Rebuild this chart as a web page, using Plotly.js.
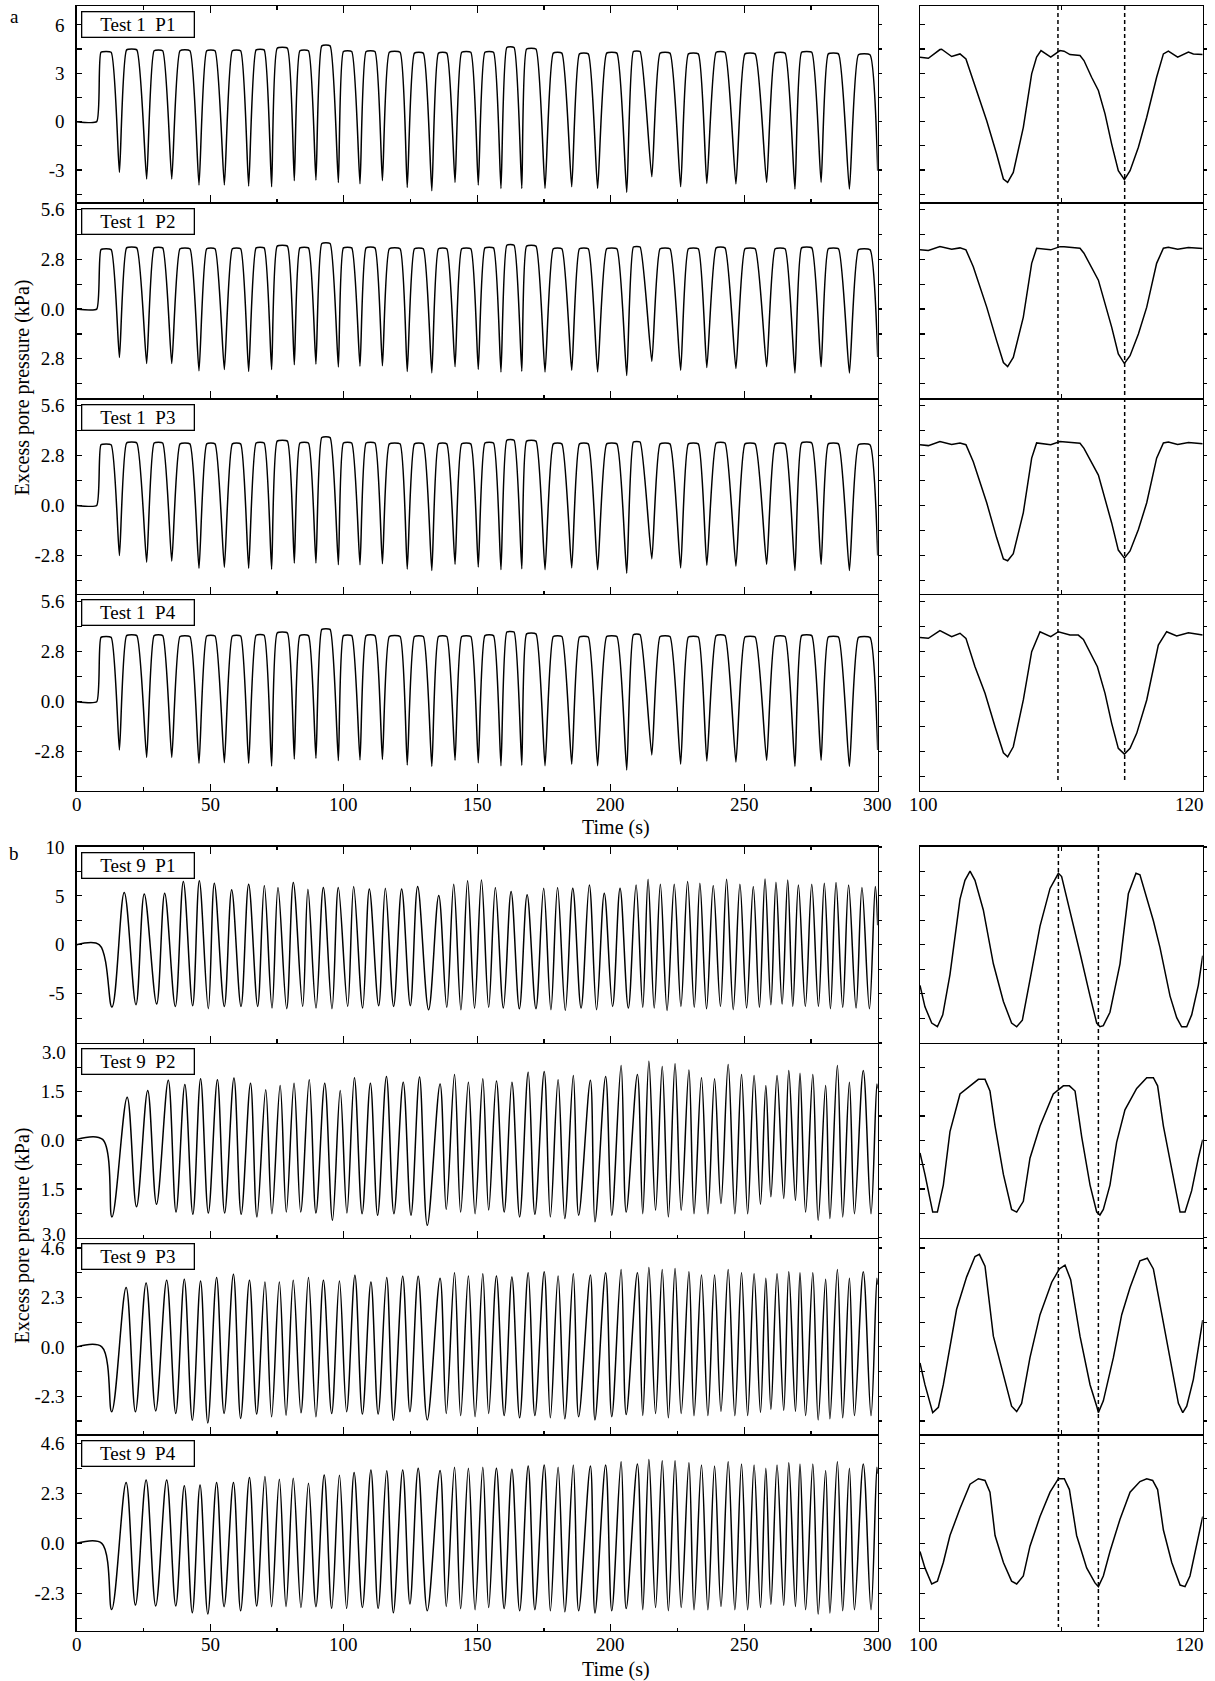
<!DOCTYPE html>
<html><head><meta charset="utf-8">
<script src="https://cdn.plot.ly/plotly-3.0.1.min.js"></script>
<style>html,body{margin:0;padding:0;background:#fff}#chart{width:1215px;height:1681px}</style>
</head><body><div id="chart"></div>
<script>
// ---------------- DATA ----------------
// Test 1 : shared timing of each cycle (s)
const T1_START = 7.5;
const T1_rise  = [9.1,18.7,29.0,38.7,48.7,58.3,67.2,75.1,83.6,91.8,99.9,108.4,117.1,126.5,135.5,144.2,152.9,161.1,168.5,178.5,188.3,198.5,208.5,218.5,229.1,239.5,250.3,261.6,271.5,281.5,292.8];
const T1_fall  = [12.9,22.5,32.2,42.4,51.8,61.4,70.2,78.9,86.8,94.9,103.0,111.7,121.1,129.8,138.6,147.6,156.1,163.8,172.0,181.7,191.6,202.3,211.0,222.2,232.8,242.8,254.1,265.3,275.3,285.3,297.1];
const T1_trough= [16.0,26.2,35.6,45.8,55.3,64.4,73.0,81.5,89.6,98.0,106.1,114.5,123.8,133.0,141.7,150.4,158.9,166.7,175.4,185.4,195.1,206.0,215.4,226.2,236.0,246.9,258.4,269.0,278.8,289.4];
// Test 1 plateau levels / trough levels (kPa)
const T1P1_plateau=[4.3,4.45,4.4,4.4,4.4,4.4,4.45,4.55,4.4,4.7,4.35,4.35,4.3,4.25,4.25,4.3,4.3,4.6,4.5,4.25,4.2,4.25,4.35,4.25,4.2,4.3,4.2,4.25,4.3,4.2,4.15];
const T1P1_trough=[-3.15,-3.56,-3.56,-3.93,-3.93,-3.99,-4.04,-3.66,-3.62,-3.77,-3.85,-3.66,-4.08,-4.29,-3.77,-3.93,-4.14,-4.14,-4.14,-4.04,-4.14,-4.39,-3.42,-4.04,-3.83,-3.87,-3.77,-4.18,-3.77,-4.18];
const T1P1_end=-3.04;
const T1P2_plateau=[3.35,3.45,3.45,3.4,3.4,3.4,3.45,3.55,3.45,3.7,3.45,3.45,3.4,3.4,3.4,3.4,3.45,3.6,3.55,3.4,3.4,3.4,3.5,3.4,3.4,3.45,3.4,3.4,3.45,3.4,3.35];
const T1P2_trough=[-2.73,-3.07,-3.07,-3.48,-3.41,-3.52,-3.41,-3.14,-3.1,-3.26,-3.22,-3.2,-3.52,-3.6,-3.25,-3.4,-3.55,-3.5,-3.55,-3.45,-3.55,-3.75,-2.95,-3.45,-3.3,-3.35,-3.25,-3.6,-3.25,-3.6];
const T1P2_end=-2.7;
const T1P3_plateau=[3.4,3.5,3.5,3.45,3.45,3.45,3.5,3.6,3.5,3.8,3.5,3.5,3.45,3.45,3.45,3.45,3.5,3.65,3.6,3.45,3.45,3.45,3.55,3.45,3.45,3.5,3.45,3.45,3.5,3.45,3.4];
const T1P3_trough=[-2.81,-3.18,-3.12,-3.52,-3.46,-3.52,-3.57,-3.23,-3.23,-3.32,-3.32,-3.27,-3.57,-3.65,-3.3,-3.45,-3.6,-3.55,-3.6,-3.5,-3.6,-3.8,-3.0,-3.5,-3.35,-3.4,-3.3,-3.65,-3.3,-3.65];
const T1P3_end=-2.8;
const T1P4_plateau=[3.6,3.7,3.7,3.65,3.68,3.68,3.72,3.85,3.7,4.05,3.7,3.7,3.65,3.65,3.65,3.65,3.7,3.9,3.8,3.65,3.62,3.65,3.75,3.65,3.62,3.7,3.62,3.65,3.7,3.62,3.6];
const T1P4_trough=[-2.70,-3.12,-3.12,-3.45,-3.41,-3.45,-3.6,-3.21,-3.17,-3.3,-3.26,-3.23,-3.54,-3.62,-3.28,-3.42,-3.58,-3.55,-3.58,-3.5,-3.58,-3.82,-2.98,-3.5,-3.32,-3.38,-3.28,-3.62,-3.28,-3.62];
const T1P4_end=-2.7;

// Test 1, zoom 100-120 s
const R1P1_t=[100.0,100.59,101.41,101.53,102.24,102.83,103.25,103.77,104.72,105.42,105.90,106.20,106.60,107.31,107.90,108.25,108.56,109.25,109.90,110.19,110.61,111.32,111.60,112.14,112.62,113.09,113.56,114.03,114.46,114.86,115.45,116.04,116.74,117.22,117.57,118.23,118.99,119.34,120.00];
const R1P1_v=[4.00,3.93,4.47,4.49,4.04,4.20,3.89,2.55,0.06,-2.01,-3.56,-3.77,-3.15,-0.35,2.96,4.00,4.41,4.00,4.41,4.37,4.16,4.10,3.79,2.75,1.93,0.48,-1.39,-3.04,-3.60,-3.04,-1.59,0.27,2.75,4.20,4.37,4.00,4.31,4.20,4.16];
const R1P2_t=[100.0,100.59,101.41,102.24,102.83,103.25,103.77,104.72,105.42,105.90,106.20,106.60,107.31,107.90,108.25,109.25,109.90,110.19,111.32,111.60,112.62,113.56,114.03,114.46,114.86,115.45,116.04,116.74,117.22,117.57,118.23,118.99,120.0];
const R1P2_v=[3.34,3.30,3.52,3.37,3.45,3.34,2.39,0.11,-1.78,-3.01,-3.24,-2.73,-0.45,2.58,3.43,3.34,3.52,3.52,3.43,3.15,1.63,-1.02,-2.53,-3.07,-2.63,-1.40,0.11,2.58,3.43,3.49,3.37,3.47,3.41];
const R1P3_t=[100.0,100.59,101.41,102.24,102.83,103.25,103.77,104.72,105.42,105.90,106.20,106.60,107.31,107.90,108.25,109.25,109.90,110.19,111.32,111.60,112.62,113.56,114.03,114.46,114.86,115.45,116.04,116.74,117.22,117.57,118.23,118.99,120.0];
const R1P3_v=[3.4,3.35,3.58,3.42,3.5,3.4,2.45,0.15,-1.8,-3.0,-3.1,-2.7,-0.4,2.65,3.5,3.4,3.58,3.56,3.48,3.2,1.7,-0.98,-2.5,-2.95,-2.55,-1.35,0.15,2.65,3.5,3.55,3.42,3.52,3.45];
const R1P4_t=[100.0,100.59,101.41,102.24,102.83,103.25,103.89,104.6,105.31,105.90,106.20,106.60,107.31,107.90,108.49,109.25,109.79,110.61,111.2,111.56,112.55,113.09,113.56,114.03,114.46,114.86,115.33,116.04,116.86,117.45,118.16,118.99,120.0];
const R1P4_v=[3.6,3.55,3.98,3.64,3.83,3.55,1.96,0.47,-1.40,-2.86,-3.08,-2.52,0.1,2.8,3.92,3.64,3.92,3.73,3.73,3.49,1.96,0.47,-1.21,-2.61,-2.93,-2.61,-1.77,0.1,3.17,3.92,3.68,3.86,3.73];

// Test 9 : extreme points (s, kPa)
const T9P1_t=[0,8.5,13.2,17.8,22.2,25.3,29.95,32.95,36.94,39.94,43.43,45.93,49.3,51.55,55.29,58.04,61.54,64.4,67.78,70.27,73.15,75.39,78.64,81.13,84.63,86.6,89.63,92.37,95.62,97.99,101.49,103.73,107.1,109.6,113.1,115.6,118.7,121.7,124.96,127.7,131.8,135.6,138.6,141.2,143.9,146.4,149.0,151.6,154.3,156.8,159.8,162.7,165.8,168.7,172.0,174.9,177.6,180.1,183.0,185.8,188.9,192.0,194.7,197.6,200.7,203.5,206.6,209.5,212.0,214.0,216.3,218.6,221.1,223.8,226.3,228.8,231.3,233.4,235.9,238.4,241.1,243.4,245.9,248.4,250.9,253.4,255.7,257.8,260.0,261.9,264.2,266.3,268.2,270.3,272.9,275.3,277.8,280.0,282.3,284.4,286.9,289.1,291.9,294.1,296.9,299.1,300];
const T9P1_v=[0,0,-6.36,5.34,-6.12,5.2,-6.05,5.27,-6.29,6.46,-6.22,6.53,-6.53,6.29,-6.29,5.61,-6.29,6.19,-6.29,6.05,-6.46,5.85,-6.53,6.36,-6.29,5.68,-6.46,5.85,-6.53,5.85,-6.29,5.95,-6.46,5.71,-6.22,5.78,-6.29,5.71,-6.22,5.95,-6.63,5.03,-6.39,6.19,-6.63,6.53,-6.46,6.63,-6.39,5.85,-6.46,5.44,-6.53,5.1,-6.53,5.78,-6.63,5.85,-6.7,5.78,-6.46,6.12,-6.63,5.27,-6.29,5.78,-6.46,6.12,-6.39,6.7,-6.46,6.19,-6.7,6.19,-6.29,6.46,-6.39,6.29,-6.53,6.05,-6.29,6.7,-6.63,6.19,-6.46,5.95,-6.39,6.73,-6.12,6.39,-6.05,6.63,-6.29,6.12,-6.29,6.19,-6.29,6.29,-6.53,6.36,-6.39,6.12,-6.46,5.85,-6.53,5.95,2.0];
const T9P2_early_t=[0,9.7,13.2,18.9,22.4,26.6,29.9,34.3,37.2,40.5,43.5,46.4,49.3,52.7,55.4,58.9,61.6,65.1,67.5,70.8,73.1,76.2,78.5,81.4,83.9,87.1,89.6,92.9,95.8,98.7,101.2,104.0,106.9,110.0,112.7,116.0,118.8,122.3,125.2,128.4];
const T9P2_early_v=[0.03,0.03,-2.36,1.33,-2.05,1.54,-1.97,1.85,-2.21,1.72,-2.28,1.90,-2.24,1.87,-2.24,1.92,-2.28,1.76,-2.36,1.56,-2.26,1.69,-2.21,1.76,-2.21,1.87,-2.24,1.76,-2.46,1.54,-2.24,1.93,-2.26,1.76,-2.31,1.97,-2.26,1.79,-2.31,1.95];
const T9_late_t=[131.3,136.1,138.4,141.5,143.8,146.7,149.2,152.1,154.3,157.2,160.1,163.0,165.9,169.1,171.6,175.1,177.4,180.3,182.8,186.0,188.0,192.4,194.1,198.1,200.4,203.9,205.8,210.0,212.0,214.3,216.8,219.3,221.6,224.1,226.4,229.3,231.2,234.0,236.4,238.9,241.3,244.0,246.5,249.0,251.3,253.7,256.1,258.1,260.0,262.3,264.8,266.7,269.2,270.9,273.0,275.7,277.7,280.5,282.1,284.9,286.9,289.4,291.3,294.6,297.5,299.7];
const T9P2_late_v=[-2.62,1.74,-2.13,2.03,-2.21,1.79,-2.26,1.90,-2.15,1.83,-2.21,1.79,-2.36,2.10,-2.28,2.12,-2.36,1.87,-2.41,2.00,-2.31,1.85,-2.51,1.97,-2.31,2.31,-2.21,2.03,-2.26,2.44,-2.15,2.28,-2.36,2.36,-2.15,2.17,-2.26,1.93,-2.26,1.90,-1.95,2.34,-2.26,2.03,-2.26,2.00,-1.97,1.69,-1.74,2.00,-1.79,2.15,-1.85,2.07,-2.21,2.03,-2.46,1.69,-2.41,2.31,-2.36,1.79,-2.26,2.15,-2.26,1.74];
const T9P2_end=1.6;
const T9P3_early_t=[0,9.4,13.1,18.5,22.0,26.0,29.6,33.7,37.1,40.3,43.3,46.4,49.1,52.4,55.2,58.7,61.4,64.7,67.4,70.5,73.0,75.9,78.4,81.1,84.0,86.8,89.6,92.4,95.5,98.4,101.1,104.2,107.0,110.2,112.9,116.1,118.6,122.1,124.8,127.9];
const T9P3_early_v=[0,0,-3.02,2.76,-3.02,2.98,-2.98,3.10,-3.10,3.15,-3.41,3.07,-3.54,3.23,-3.10,3.38,-3.33,3.10,-3.13,3.02,-3.25,3.02,-3.18,3.10,-3.07,3.23,-3.25,3.10,-3.10,3.07,-3.02,3.33,-3.13,3.02,-3.13,3.23,-3.41,3.29,-3.02,3.29];
const T9P3_late_v=[-3.4,3.2,-3.1,3.45,-3.2,3.3,-3.25,3.4,-3.1,3.3,-3.2,3.25,-3.3,3.45,-3.2,3.5,-3.3,3.3,-3.35,3.4,-3.25,3.35,-3.4,3.45,-3.25,3.6,-3.15,3.45,-3.2,3.7,-3.1,3.6,-3.3,3.65,-3.1,3.5,-3.2,3.35,-3.2,3.35,-3.0,3.6,-3.2,3.45,-3.2,3.4,-3.05,3.2,-2.9,3.4,-2.95,3.5,-3.0,3.45,-3.2,3.45,-3.4,3.15,-3.35,3.6,-3.3,3.2,-3.2,3.5,-3.2,3.2];
const T9P3_end=2.9;
const T9P4_early_t=[0,9.4,13.1,18.5,22.0,26.0,29.6,33.7,37.1,40.3,43.3,46.2,49.1,52.4,55.2,58.7,61.4,64.7,67.4,70.5,73.0,75.9,78.4,81.1,84.0,86.8,89.6,92.7,95.5,98.4,101.1,103.9,107.0,110.2,112.9,116.1,118.6,122.1,124.8,127.9];
const T9P4_early_v=[0,0,-3.04,2.79,-2.84,2.91,-2.88,2.91,-2.88,2.64,-3.19,2.68,-3.25,2.79,-2.91,2.79,-3.10,3.02,-2.88,3.07,-2.91,2.94,-2.91,2.99,-2.95,2.76,-2.91,3.14,-2.99,3.13,-2.99,3.25,-2.95,3.37,-2.99,3.34,-3.19,3.37,-2.79,3.45];
const T9P4_late_v=[-3.1,3.35,-2.9,3.5,-3.0,3.45,-3.05,3.5,-2.95,3.45,-3.0,3.4,-3.1,3.55,-3.05,3.6,-3.1,3.5,-3.15,3.6,-3.1,3.55,-3.2,3.6,-3.1,3.75,-3.0,3.65,-3.05,3.85,-2.95,3.8,-3.1,3.8,-2.95,3.7,-3.05,3.6,-3.05,3.55,-2.9,3.75,-3.05,3.65,-3.05,3.6,-2.95,3.45,-2.8,3.6,-2.85,3.7,-2.9,3.65,-3.05,3.65,-3.25,3.35,-3.2,3.75,-3.1,3.45,-3.05,3.65,-3.05,3.5];
const T9P4_end=3.2;

// Test 9, zoom 100-120 s
const R9P1_t=[100.0,100.35,100.83,101.23,101.61,102.12,102.83,103.18,103.54,103.89,104.48,105.19,105.9,106.48,106.84,107.24,107.78,108.49,109.2,109.79,110.02,110.61,111.32,112.03,112.5,112.73,112.97,113.44,114.15,114.74,115.28,115.56,116.04,116.51,116.98,117.69,118.16,118.51,118.87,119.22,119.69,120.0];
const R9P1_v=[-4.14,-6.34,-7.99,-8.37,-7.16,-3.04,4.66,6.59,7.52,6.59,3.56,-1.94,-5.79,-7.99,-8.37,-7.71,-3.59,1.91,5.76,7.30,6.97,3.56,-0.84,-5.24,-7.99,-8.37,-8.26,-6.89,-1.94,5.21,7.30,7.14,4.66,2.46,-0.29,-5.24,-7.44,-8.37,-8.37,-7.16,-4.14,-1.11];
const R9P2_t=[100.0,100.35,100.9,101.23,101.65,102.12,102.83,103.54,104.13,104.6,104.95,105.31,105.9,106.48,106.84,107.31,107.78,108.49,109.43,110.14,110.57,110.97,111.44,112.03,112.5,112.73,112.97,113.44,113.91,114.5,115.33,116.04,116.51,116.81,117.22,117.81,118.4,118.75,119.22,119.69,120.0];
const R9P2_v=[-0.39,-1.05,-2.21,-2.21,-1.38,0.27,1.43,1.68,1.88,1.88,1.52,0.44,-1.05,-2.13,-2.21,-1.88,-0.55,0.44,1.43,1.68,1.68,1.52,0.11,-1.38,-2.21,-2.30,-2.13,-1.38,-0.06,0.94,1.60,1.93,1.93,1.68,0.44,-0.89,-2.21,-2.21,-1.55,-0.55,0.02];
const R9P3_t=[100.0,100.35,100.9,101.3,101.65,102.12,102.59,103.3,103.89,104.2,104.6,105.19,105.9,106.48,106.84,107.19,107.78,108.49,109.32,109.86,110.26,110.66,111.32,112.03,112.5,112.62,112.97,113.68,114.27,114.86,115.56,116.08,116.51,116.98,117.69,118.28,118.59,118.87,119.34,120.0];
const R9P3_v=[-0.75,-1.76,-3.06,-2.81,-1.76,0.0,1.75,3.26,4.21,4.31,3.76,0.5,-1.26,-2.76,-3.01,-2.63,-0.50,1.5,3.01,3.63,3.81,3.13,0.5,-1.76,-2.76,-3.06,-2.51,-0.50,1.5,2.76,4.01,4.13,3.63,2.0,-0.50,-2.63,-3.06,-2.76,-1.51,1.25];
const R9P4_t=[100.0,100.35,100.83,101.23,101.65,102.12,102.83,103.54,104.13,104.6,104.95,105.31,105.9,106.48,106.84,107.31,107.78,108.49,109.2,109.79,110.21,110.57,111.08,111.79,112.38,112.62,112.97,113.44,114.15,114.86,115.56,116.04,116.46,116.81,117.22,117.81,118.4,118.75,119.1,119.57,120.0];
const R9P4_v=[-0.38,-1.13,-1.87,-1.74,-0.88,0.36,1.6,2.72,2.97,2.89,2.35,0.36,-0.88,-1.74,-1.87,-1.5,-0.13,1.23,2.35,2.97,2.97,2.47,0.36,-1.13,-1.82,-1.99,-1.5,-0.38,1.11,2.35,2.84,2.97,2.89,2.47,0.61,-0.88,-1.92,-1.99,-1.5,-0.13,1.23];

// Reference-line times in the zoom panels (s)
const A_DASH=[109.76,114.48];
const B_DASH=[109.79,112.62];
const LABELS_A=['Test 1\u00a0\u00a0P1','Test 1\u00a0\u00a0P2','Test 1\u00a0\u00a0P3','Test 1\u00a0\u00a0P4'];
const LABELS_B=['Test 9\u00a0\u00a0P1','Test 9\u00a0\u00a0P2','Test 9\u00a0\u00a0P3','Test 9\u00a0\u00a0P4'];
const X_TICKS=[0,50,100,150,200,250,300];
const X_MINOR=[25,75,125,175,225,275];
const ZOOM_TICKS=[100,120];

// ---------------- BUILD ----------------
function buildT1(plateau,trough,endV){
  const x=[0,T1_START], y=[0,0];
  for(let k=0;k<T1_rise.length;k++){
    x.push(T1_rise[k],T1_fall[k]); y.push(plateau[k],plateau[k]);
    if(k<T1_trough.length){x.push(T1_trough[k]); y.push(trough[k]);}
  }
  x.push(300); y.push(endV);
  return {x,y};
}
const W=1215,H=1681;
const FONT='Liberation Serif, Times New Roman, serif';
const LCOL=[76.7,877.7], RCOL=[920,1202.7];
const ROWS_A=[6,202.3,398.3,594,790.7];
const ROWS_B=[846.7,1042.7,1238,1434.3,1631];
const LW=1.4;
const YSPEC=[
 {range:[-5.0,7.17],vals:[6,3,0,-3],text:['6','3','0','-3'],minor:[4.5,1.5,-1.5,-4.5]},
 {range:[-5.03,6.02],vals:[5.6,2.8,0,-2.8],text:['5.6','2.8','0.0','2.8'],minor:[4.2,1.4,-1.4,-4.2]},
 {range:[-4.96,6.0],vals:[5.6,2.8,0,-2.8],text:['5.6','2.8','0.0','-2.8'],minor:[4.2,1.4,-1.4,-4.2]},
 {range:[-4.98,6.03],vals:[5.6,2.8,0,-2.8],text:['5.6','2.8','0.0','-2.8'],minor:[4.2,1.4,-1.4,-4.2]},
 {range:[-10,10.02],vals:[10,5,0,-5],text:['10','5','0','-5'],minor:[7.5,2.5,-2.5,-7.5]},
 {range:[-3.01,3.01],vals:[3,1.5,0,-1.5,-3],text:['','1.5','0.0','1.5',''],minor:[2.25,0.75,-0.75,-2.25],topLabel:'3.0',botLabel:'3.0'},
 {range:[-4.07,5.07],vals:[4.6,2.3,0,-2.3],text:['4.6','2.3','0.0','-2.3'],minor:[3.45,1.15,-1.15,-3.45]},
 {range:[-4.03,5.01],vals:[4.6,2.3,0,-2.3],text:['4.6','2.3','0.0','-2.3'],minor:[3.45,1.15,-1.15,-3.45]}
];
const leftSeries=[
 buildT1(T1P1_plateau,T1P1_trough,T1P1_end),
 buildT1(T1P2_plateau,T1P2_trough,T1P2_end),
 buildT1(T1P3_plateau,T1P3_trough,T1P3_end),
 buildT1(T1P4_plateau,T1P4_trough,T1P4_end),
 {x:T9P1_t,y:T9P1_v},
 {x:T9P2_early_t.concat(T9_late_t,[300]),y:T9P2_early_v.concat(T9P2_late_v,[T9P2_end])},
 {x:T9P3_early_t.concat(T9_late_t,[300]),y:T9P3_early_v.concat(T9P3_late_v,[T9P3_end])},
 {x:T9P4_early_t.concat(T9_late_t,[300]),y:T9P4_early_v.concat(T9P4_late_v,[T9P4_end])}
];
const rightSeries=[
 {x:R1P1_t,y:R1P1_v},{x:R1P2_t,y:R1P2_v},{x:R1P3_t,y:R1P3_v},{x:R1P4_t,y:R1P4_v},
 {x:R9P1_t,y:R9P1_v},{x:R9P2_t,y:R9P2_v},{x:R9P3_t,y:R9P3_v},{x:R9P4_t,y:R9P4_v}
];
const px=v=>v/W, py=v=>1-v/H;
const data=[], layout={
  width:W,height:H,margin:{l:0,r:0,t:0,b:0},paper_bgcolor:'#fff',plot_bgcolor:'#fff',
  showlegend:false,hovermode:false,font:{family:FONT,color:'#000',size:19},
  annotations:[],shapes:[]
};
const TICKF={family:FONT,size:19,color:'#000'};
let idx=0;
for(let g=0;g<2;g++){
  const rows=g===0?ROWS_A:ROWS_B;
  for(let col=0;col<2;col++){
    for(let r=0;r<4;r++){
      idx++;
      const spec=YSPEC[g*4+r];
      const xd=col===0?LCOL:RCOL;
      const dom=[py(rows[r+1]),py(rows[r])];
      const isLeft=col===0;
      const series=isLeft?leftSeries[g*4+r]:rightSeries[g*4+r];
      const xa='xaxis'+idx, ya='yaxis'+idx, ov='yaxis'+(16+idx);
      layout[xa]={domain:[px(xd[0]),px(xd[1])],anchor:'y'+idx,
        range:isLeft?[0,300]:[100,120],
        tickmode:'array',tickvals:isLeft?X_TICKS:[110],ticktext:isLeft?X_TICKS.map(String):[''],
        ticks:'inside',ticklen:isLeft?7:4,tickwidth:1.2,tickcolor:'#000',
        minor:isLeft?{tickmode:'array',tickvals:X_MINOR,ticks:'inside',ticklen:3.5,tickwidth:1.2,tickcolor:'#000',showgrid:false}:undefined,
        // only the top panel draws its top border: the others share the border of the panel above
        showline:true,linecolor:'#000',linewidth:LW,mirror:r===0?'ticks':false,
        showgrid:false,zeroline:false,fixedrange:true,showticklabels:false};
      layout[ya]={domain:dom,anchor:'x'+idx,range:spec.range,
        tickmode:'array',tickvals:spec.vals,ticktext:spec.text,
        ticks:'inside',ticklen:5,tickwidth:1.2,tickcolor:'#000',
        minor:{tickmode:'array',tickvals:spec.minor,ticks:'inside',ticklen:5,tickwidth:1.2,tickcolor:'#000',showgrid:false},
        showline:true,linecolor:'#000',linewidth:LW,mirror:true,
        showgrid:false,zeroline:false,fixedrange:true,
        showticklabels:isLeft,tickfont:TICKF,ticklabelstandoff:7};
      layout[ov]={overlaying:'y'+idx,side:'right',anchor:'x'+idx,range:spec.range,
        tickmode:'array',tickvals:spec.vals.concat(spec.minor),ticks:'outside',ticklen:3,tickwidth:1.2,tickcolor:'#000',
        showticklabels:false,showline:false,showgrid:false,zeroline:false,fixedrange:true};
      data.push({type:'scatter',mode:'lines',x:series.x,y:series.y,xaxis:'x'+idx,yaxis:'y'+idx,
        line:{color:'#000',width:1.5,shape:isLeft?'spline':'linear',smoothing:isLeft?(g===0?0.45:1.0):0},
        hoverinfo:'skip'});
      data.push({type:'scatter',mode:'lines',x:[null],y:[null],xaxis:'x'+idx,yaxis:'y'+(16+idx),hoverinfo:'skip'});
      if(isLeft){
        layout.annotations.push({xref:'paper',yref:'paper',x:px(81),y:py(rows[r]+5.3),xanchor:'left',yanchor:'top',
          text:(g===0?LABELS_A:LABELS_B)[r],showarrow:false,font:{family:FONT,size:19,color:'#000'},
          bordercolor:'#000',borderwidth:1.3,borderpad:0,bgcolor:'#fff',width:111,height:24,align:'center',valign:'middle'});
        if(spec.topLabel){
          // in the reference the end labels of this axis sit slightly inside the panel
          layout.annotations.push({xref:'paper',yref:'paper',x:px(68),y:py(rows[r]+10),xanchor:'right',yanchor:'middle',
            text:spec.topLabel,showarrow:false,font:TICKF});
          layout.annotations.push({xref:'paper',yref:'paper',x:px(68),y:py(rows[r+1]-4),xanchor:'right',yanchor:'middle',
            text:spec.botLabel,showarrow:false,font:TICKF});
        }
      }
    }
  }
  // dashed reference lines in zoom column
  const dash=g===0?A_DASH:B_DASH, xr='x'+(g===0?5:13);
  const yTop=g===0?6:847, yBot=g===0?781:1627;
  dash.forEach(t=>layout.shapes.push({type:'line',xref:xr,yref:'paper',x0:t,x1:t,y0:py(yTop),y1:py(yBot),
    line:{color:'#000',width:1.5,dash:'4px,3px'}}));
  // x tick labels
  const lblY=g===0?804.5:1644.5;
  const xrL='x'+(g===0?4:12), xrR='x'+(g===0?8:16);
  X_TICKS.forEach(t=>layout.annotations.push({xref:xrL,yref:'paper',x:t,y:py(lblY),xanchor:'center',yanchor:'middle',
    text:String(t),showarrow:false,font:TICKF}));
  layout.annotations.push({xref:xrR,yref:'paper',x:ZOOM_TICKS[0],y:py(lblY),xanchor:'center',yanchor:'middle',text:String(ZOOM_TICKS[0]),showarrow:false,xshift:3,font:TICKF});
  layout.annotations.push({xref:xrR,yref:'paper',x:ZOOM_TICKS[1],y:py(lblY),xanchor:'right',yanchor:'middle',text:String(ZOOM_TICKS[1]),showarrow:false,xshift:3,font:TICKF});
  // axis titles
  layout.annotations.push({xref:'paper',yref:'paper',x:px(616),y:py(g===0?827:1669),xanchor:'center',yanchor:'middle',
    text:'Time (s)',showarrow:false,font:{family:FONT,size:20,color:'#000'}});
  layout.annotations.push({xref:'paper',yref:'paper',x:px(22),y:py(g===0?387.5:1235.5),xanchor:'center',yanchor:'middle',
    text:'Excess pore pressure (kPa)',textangle:-90,showarrow:false,font:{family:FONT,size:20,color:'#000'}});
  // panel letters
  layout.annotations.push({xref:'paper',yref:'paper',x:px(14),y:py(g===0?16.7:853),xanchor:'center',yanchor:'middle',
    text:g===0?'a':'b',showarrow:false,font:{family:FONT,size:19,color:'#000'}});
}
Plotly.newPlot('chart',data,layout,{staticPlot:true,displayModeBar:false});
</script>
</body></html>
